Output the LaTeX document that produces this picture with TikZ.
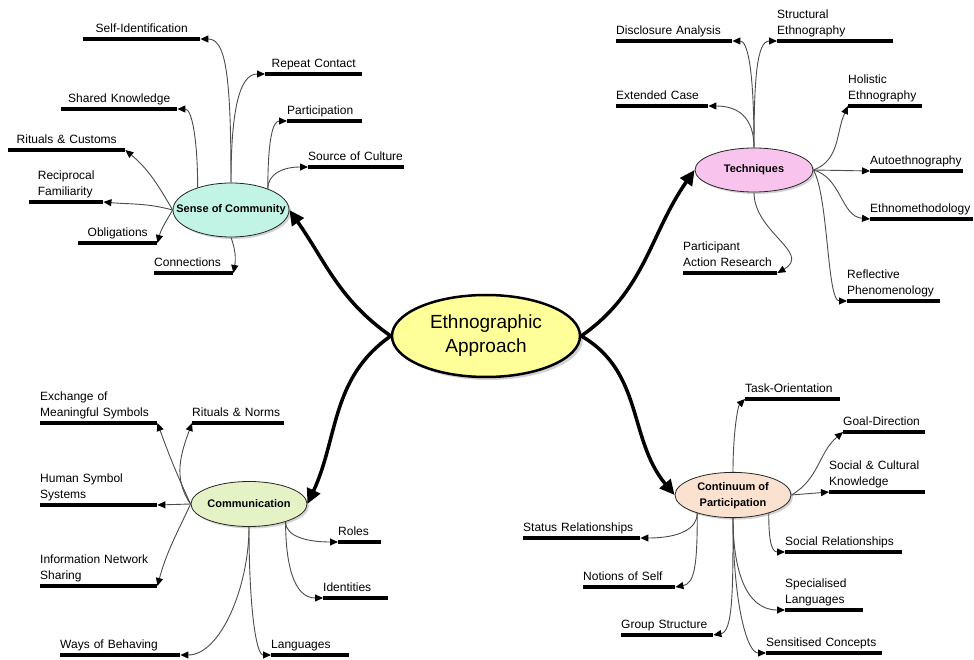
\documentclass[tikz,border=0pt]{standalone}
\usepackage{fontspec}
\setmainfont{Liberation Sans}
\usetikzlibrary{shapes.geometric,arrows.meta,shadows}

\definecolor{coreyellow}{HTML}{FFFF99}
\definecolor{socmint}{HTML}{C2F4E6}
\definecolor{techpink}{HTML}{F8C4EE}
\definecolor{commgreen}{HTML}{E4F2C6}
\definecolor{contpeach}{HTML}{FBE2D0}

\newcommand{\leaffont}{\fontsize{12}{16}\selectfont}
\newcommand{\hubtext}[1]{\makebox[0pt]{#1}}
\newcommand{\twolines}[2]{\begin{tabular}[b]{@{}l@{}}#1\\#2\end{tabular}}

\tikzset{
  bar/.style = {draw, line width=4pt, -},
  leaf/.style = {anchor=south west, inner xsep=0pt, inner ysep=3pt, text depth=3pt,
    align=left, font=\leaffont,
    append after command={(\tikzlastnode.south west) edge[bar] (\tikzlastnode.south east)}},
  hub/.style = {ellipse, draw=black!85, line width=0.8pt, inner sep=0pt,
    minimum width=116pt, minimum height=45pt,
    font=\bfseries\fontsize{11}{16}\selectfont,
    drop shadow={shadow xshift=2pt, shadow yshift=-2pt, opacity=0.35}},
  core/.style = {ellipse, draw, line width=2.5pt, fill=coreyellow,
    minimum width=188pt, minimum height=82pt, align=center,
    font=\fontsize{19}{24}\selectfont,
    drop shadow={shadow xshift=3pt, shadow yshift=-3pt, opacity=0.35}},
  twig/.style = {draw=black!70, line width=0.9pt, -{Triangle[length=8pt,width=7pt,color=black]}},
  trunk/.style = {line width=3.5pt, -{Triangle[length=15pt,width=14pt]}},
}

\begin{document}
\begin{tikzpicture}[x=1pt, y=1pt]
    \path[use as bounding box, fill=white] (0,0) rectangle (974,659);

    \node[core] (core) at (486,323) {Ethnographic\\Approach};
    \node[hub, fill=socmint, minimum height=54pt] (soc) at (231,449) {\hubtext{Sense of Community}};
    \node[hub, fill=techpink, minimum width=118pt, minimum height=44pt] (tech) at (754,489) {\hubtext{Techniques}};
    \node[hub, fill=commgreen] (comm) at (249,155) {\hubtext{Communication}};
    \node[hub, fill=contpeach, minimum height=44pt] (cont) at (733,164) {\hubtext{\begin{tabular}{@{}c@{}}Continuum of\\Participation\end{tabular}}};

    \node[leaf, text width=117pt, align=center] (selfid) at (83,620) {Self-Identification};
    \node[leaf, text width=97pt, align=center] (repeat) at (265,585) {Repeat Contact};
    \node[leaf, text width=116pt, align=center] (shared) at (61,550) {Shared Knowledge};
    \node[leaf, text width=75pt] (particip) at (287,538) {Participation};
    \node[leaf, text width=96pt] (source) at (308,492) {Source of Culture};
    \node[leaf, text width=117pt, align=center] (customs) at (8,509) {Rituals \& Customs};
    \node[leaf, text width=74pt, align=center] (recip) at (29,457) {\twolines{Reciprocal}{Familiarity}};
    \node[leaf, text width=79pt, align=center] (oblig) at (78,416) {Obligations};
    \node[leaf, text width=79pt] (connect) at (154,386) {Connections};

    \node[leaf, text width=116pt] (disclosure) at (616,618) {Disclosure Analysis};
    \node[leaf, text width=116pt] (structural) at (777,618) {\twolines{Structural}{Ethnography}};
    \node[leaf, text width=92pt] (extended) at (616,553) {Extended Case};
    \node[leaf, text width=74pt] (holistic) at (848,553) {\twolines{Holistic}{Ethnography}};
    \node[leaf, text width=93pt] (autoeth) at (870,488) {Autoethnography};
    \node[leaf, text width=103pt] (ethnometh) at (870,440) {Ethnomethodology};
    \node[leaf, text width=94pt] (parres) at (683,386) {\twolines{Participant}{Action Research}};
    \node[leaf, text width=93pt] (reflective) at (847,358) {\twolines{Reflective}{Phenomenology}};

    \node[leaf, text width=117pt] (exchange) at (40,236) {\twolines{Exchange of}{Meaningful Symbols}};
    \node[leaf, text width=92pt] (norms) at (192,236) {Rituals \& Norms};
    \node[leaf, text width=117pt] (human) at (40,154) {\twolines{Human Symbol}{Systems}};
    \node[leaf, text width=117pt] (infonet) at (40,73) {\twolines{Information Network}{Sharing}};
    \node[leaf, text width=43pt] (roles) at (338,117) {Roles};
    \node[leaf, text width=65pt] (ident) at (323,61) {Identities};
    \node[leaf, text width=120pt] (behaving) at (60,4) {Ways of Behaving};
    \node[leaf, text width=78pt] (langs) at (271,4) {Languages};

    \node[leaf, text width=95pt] (task) at (745,260) {Task-Orientation};
    \node[leaf, text width=82pt] (goal) at (843,227) {Goal-Direction};
    \node[leaf, text width=96pt] (culture) at (829,167) {\twolines{Social \& Cultural}{Knowledge}};
    \node[leaf, text width=117pt] (socrel) at (785,107) {Social Relationships};
    \node[leaf, text width=117pt] (status) at (523,121) {Status Relationships};
    \node[leaf, text width=92pt] (selfnotion) at (583,72) {Notions of Self};
    \node[leaf, text width=92pt] (group) at (621,24) {Group Structure};
    \node[leaf, text width=78pt] (speclang) at (785,49) {\twolines{Specialised}{Languages}};
    \node[leaf, text width=116pt] (sensitised) at (766,6) {Sensitised Concepts};

    \draw[trunk] (core.west) to[out=145,in=-55] (soc.east);
    \draw[trunk] (core.east) to[out=35,in=235] (tech.west);
    \draw[trunk] (core.west) to[out=215,in=65] (comm.east);
    \draw[trunk] (core.east) to[out=-30,in=130] (cont.west);

    \draw[twig] (soc.north) to[out=90,in=0,out distance=110pt,in distance=25pt] (selfid.south east);
    \draw[twig] (soc.north) to[out=90,in=180,out distance=75pt,in distance=25pt] (repeat.south west);
    \draw[twig] (soc.146) to[out=90,in=0,out distance=45pt,in distance=15pt] (shared.south east);
    \draw[twig] (soc.30) to[out=90,in=180,out distance=45pt,in distance=15pt] (particip.south west);
    \draw[twig] (soc.30) to[out=90,in=180,out distance=15pt,in distance=25pt] (source.south west);
    \draw[twig] (soc.west) to[out=120,in=-40] (customs.south east);
    \draw[twig] (soc.west) to[out=165,in=-5] (recip.south east);
    \draw[twig] (soc.west) to[out=240,in=75] (oblig.south east);
    \draw[twig] (soc.south) to[out=-70,in=80] (connect.south east);

    \draw[twig] (tech.north) to[out=90,in=0,out distance=80pt,in distance=15pt] (disclosure.south east);
    \draw[twig] (tech.north) to[out=90,in=180,out distance=70pt,in distance=20pt] (structural.south west);
    \draw[twig] (tech.north) to[out=90,in=0,out distance=30pt,in distance=30pt] (extended.south east);
    \draw[twig] (tech.east) to[out=20,in=245] (holistic.south west);
    \draw[twig] (tech.east) -- (autoeth.south west);
    \draw[twig] (tech.east) to[out=-15,in=175] (ethnometh.south west);
    \draw[twig] (tech.south) to[out=-90,in=30,out distance=40pt,in distance=40pt] (parres.south east);
    \draw[twig] (tech.east) to[out=-60,in=180,out distance=30pt,in distance=20pt] (reflective.south west);

    \draw[twig] (comm.west) to[out=115,in=-70] (exchange.south east);
    \draw[twig] (comm.west) to[out=125,in=250] (norms.south west);
    \draw[twig] (comm.west) -- (human.south east);
    \draw[twig] (comm.west) to[out=245,in=75] (infonet.south east);
    \draw[twig] (comm.-26) to[out=-90,in=180,out distance=15pt,in distance=30pt] (roles.south west);
    \draw[twig] (comm.-26) to[out=-90,in=180,out distance=40pt,in distance=30pt] (ident.south west);
    \draw[twig] (comm.south) to[out=-90,in=0,out distance=60pt,in distance=40pt] (behaving.south east);
    \draw[twig] (comm.south) to[out=-90,in=180,out distance=80pt,in distance=15pt] (langs.south west);

    \draw[twig] (cont.north) to[out=90,in=225,out distance=40pt,in distance=10pt] (task.south west);
    \draw[twig] (cont.east) to[out=30,in=220] (goal.south west);
    \draw[twig] (cont.east) -- (culture.south west);
    \draw[twig] (cont.-27) to[out=-90,in=180,out distance=20pt,in distance=15pt] (socrel.south west);
    \draw[twig] (cont.-153) to[out=-90,in=0,out distance=15pt,in distance=40pt] (status.south east);
    \draw[twig] (cont.-153) to[out=-90,in=10,out distance=50pt,in distance=20pt] (selfnotion.south east);
    \draw[twig] (cont.south) to[out=-90,in=10,out distance=70pt,in distance=20pt] (group.south east);
    \draw[twig] (cont.south) to[out=-90,in=180,out distance=50pt,in distance=40pt] (speclang.south west);
    \draw[twig] (cont.south) to[out=-90,in=180,out distance=80pt,in distance=20pt] (sensitised.south west);
\end{tikzpicture}
\end{document}
